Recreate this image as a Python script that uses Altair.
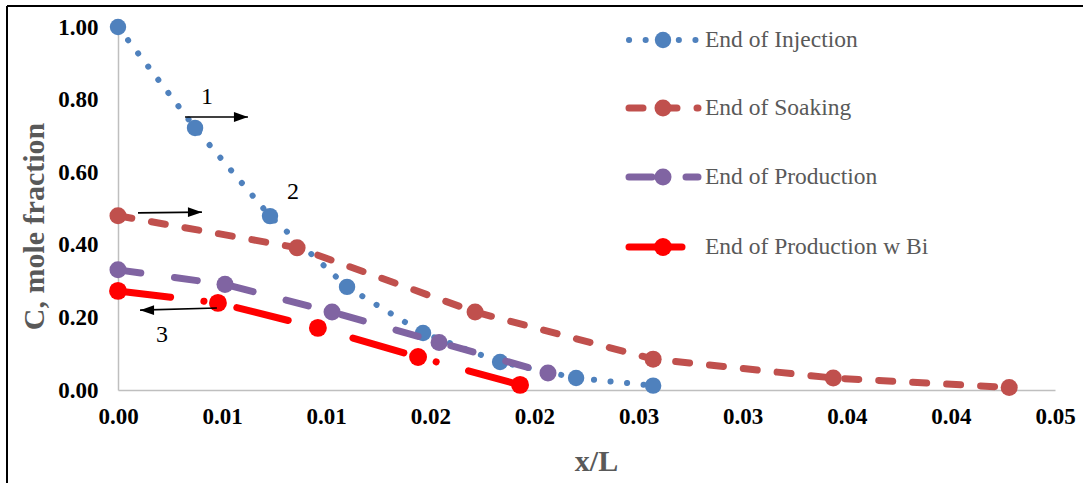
import altair as alt
import pandas as pd

# ---------------- data ----------------
inj_x = [0.0, 0.0037, 0.0073, 0.0110, 0.01465, 0.01835, 0.0220, 0.0257]
inj_y = [1.00, 0.722, 0.479, 0.284, 0.157, 0.077, 0.033, 0.012]

soak_x = [0.0, 0.0086, 0.01715, 0.0257, 0.03435, 0.0428]
soak_y = [0.480, 0.392, 0.215, 0.085, 0.033, 0.007]

prod_x = [0.0, 0.00514, 0.01028, 0.01542, 0.02065]
prod_y = [0.331, 0.291, 0.215, 0.131, 0.047]

bi_x = [0.0, 0.0048, 0.0096, 0.01441, 0.01931]
bi_y = [0.273, 0.240, 0.171, 0.091, 0.014]

series_names = ["End of Injection", "End of Soaking", "End of Production", "End of Production w Bi"]
series_colors = ["#4F81BD", "#C0504D", "#8064A2", "#FF0000"]

x_ticks = [0.0, 0.005, 0.010, 0.015, 0.020, 0.025, 0.030, 0.035, 0.040, 0.045]
y_ticks = [0.0, 0.2, 0.4, 0.6, 0.8, 1.0]

ann_text = ["1", "2", "3"]
ann_x = [0.00427, 0.00840, 0.00211]
ann_y = [0.807, 0.545, 0.152]

arrow_x0 = [0.00322, 0.00096, 0.00475]
arrow_y0 = [0.752, 0.488, 0.226]
arrow_x1 = [0.00624, 0.00403, 0.00106]
arrow_y1 = [0.752, 0.490, 0.220]
arrow_dir = ["right", "right", "left"]

# ---------------- styles ----------------
SERIF = "Liberation Serif, Times New Roman, serif"
dashes = [[0.1, 16.5], [14, 20], [23, 34], [53, 33.5, 0.1, 33.5]]
widths = [6, 7, 7, 7]
msizes = [270, 290, 290, 320]

xscale = alt.Scale(domain=[0, 0.045], nice=False, zero=False)
yscale = alt.Scale(domain=[0, 1], nice=False)

xaxis = alt.Axis(
    values=x_ticks, labelExpr="format(datum.value + 1e-9, '.2f')",
    title="x/L", titleX=478, titleY=80, titleBaseline="alphabetic",
    titleFont=SERIF, titleFontSize=30, titleFontWeight="bold", titleColor="#595959",
    labelFont=SERIF, labelFontSize=23, labelFontWeight="bold", labelColor="black",
    labelPadding=15, ticks=False, grid=False, domainColor="#BFBFBF", domainWidth=1.5,
    labelOverlap=False, labelFlush=False,
)
yaxis = alt.Axis(
    values=y_ticks, format=".2f",
    title="C, mole fraction", titleX=-75, titleY=199, titleAngle=-90,
    titleAlign="center", titleBaseline="alphabetic",
    titleFont=SERIF, titleFontSize=30, titleFontWeight="bold", titleColor="#595959",
    labelFont=SERIF, labelFontSize=23, labelFontWeight="bold", labelColor="black",
    labelPadding=20, ticks=False, grid=False, domainColor="#BFBFBF", domainWidth=1.5,
    labelOverlap=False, labelFlush=False,
)

X = alt.X("x:Q", scale=xscale, axis=xaxis)
Y = alt.Y("y:Q", scale=yscale, axis=yaxis)

layers = []
all_x = [inj_x, soak_x, prod_x, bi_x]
all_y = [inj_y, soak_y, prod_y, bi_y]
for i in range(4):
    df = pd.DataFrame({"x": all_x[i], "y": all_y[i]})
    base = alt.Chart(df).encode(x=X, y=Y)
    layers.append(base.mark_line(color=series_colors[i], strokeDash=dashes[i],
                                 strokeWidth=widths[i], strokeCap="round", strokeJoin="round"))
    layers.append(base.mark_circle(color=series_colors[i], size=msizes[i], opacity=1))

# annotations
ann_df = pd.DataFrame({"x": ann_x, "y": ann_y, "t": ann_text})
layers.append(alt.Chart(ann_df).mark_text(font=SERIF, fontSize=24, color="black",
                                          align="center", baseline="middle")
              .encode(x=X, y=Y, text="t:N"))

arr_df = pd.DataFrame({"x": arrow_x0, "y": arrow_y0, "x2": arrow_x1, "y2": arrow_y1, "d": arrow_dir})
layers.append(alt.Chart(arr_df).mark_rule(color="black", strokeWidth=1.6)
              .encode(x=X, y=Y, x2="x2:Q", y2="y2:Q"))
layers.append(alt.Chart(arr_df).mark_point(filled=True, color="black", size=196, opacity=1)
              .encode(x=alt.X("x2:Q", scale=xscale, axis=xaxis), y=alt.Y("y2:Q", scale=yscale, axis=yaxis),
                      shape=alt.Shape("d:N", scale=alt.Scale(domain=["right", "left"],
                                      range=["M0,0L-2,-0.7L-2,0.7Z", "M0,0L2,-0.7L2,0.7Z"]), legend=None)))

# legend (manual, positioned inside the plot area)
one = pd.DataFrame({"a": [0]})
leg_y = [13, 81, 150, 220]
leg_x2 = [580, 580, 580, 571]
for i in range(4):
    layers.append(alt.Chart(one).mark_rule(color=series_colors[i], strokeDash=dashes[i],
                                           strokeWidth=widths[i], strokeCap="round")
                  .encode(x=alt.value(511), x2=alt.value(leg_x2[i]), y=alt.value(leg_y[i])))
    layers.append(alt.Chart(one).mark_circle(color=series_colors[i], size=msizes[i], opacity=1)
                  .encode(x=alt.value(545), y=alt.value(leg_y[i])))
    layers.append(alt.Chart(one).mark_text(font=SERIF, fontSize=23.5, color="#595959",
                                           align="left", baseline="middle")
                  .encode(x=alt.value(587), y=alt.value(leg_y[i]), text=alt.value(series_names[i])))

# figure border (top and left edges)
layers.append(alt.Chart(one).mark_rule(color="black", strokeWidth=2)
              .encode(x=alt.value(-111), x2=alt.value(970), y=alt.value(-21)))
layers.append(alt.Chart(one).mark_rule(color="black", strokeWidth=2)
              .encode(x=alt.value(-111), y=alt.value(-21), y2=alt.value(460)))

chart = alt.layer(*layers).properties(
    width=937, height=363,
    autosize=alt.AutoSizeParams(type="none"),
    padding={"left": 118, "top": 27, "right": 28, "bottom": 93},
    background="white",
).configure_view(stroke=None)

chart.save("out.html", embed_options={"renderer": "svg", "actions": False})
